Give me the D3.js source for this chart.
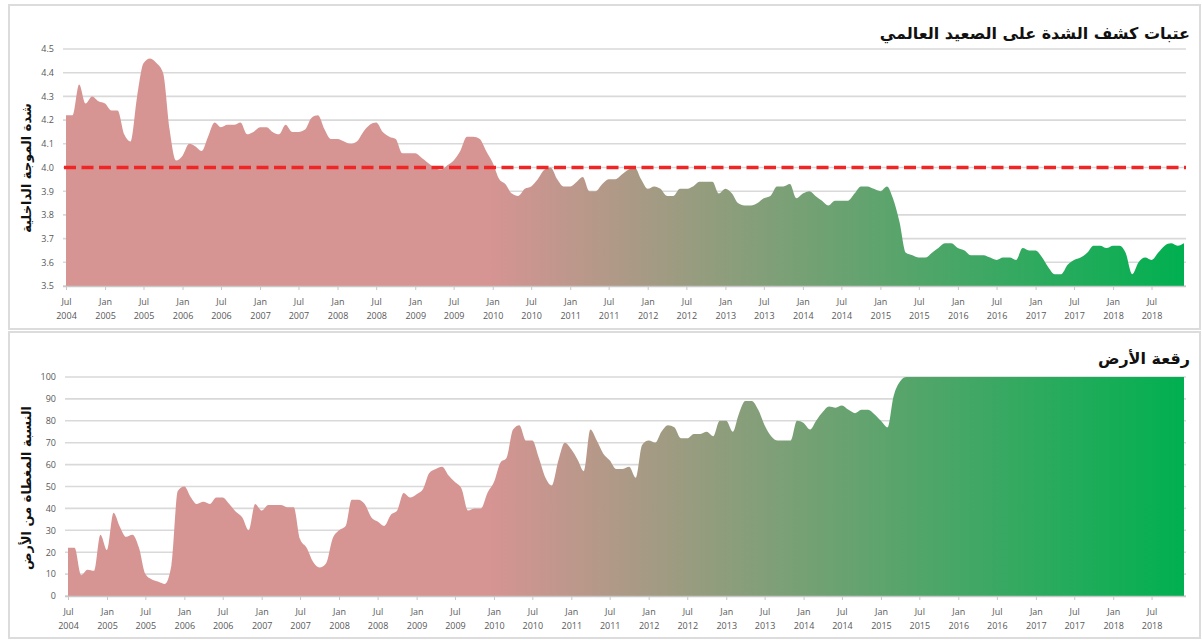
<!DOCTYPE html>
<html>
<head>
<meta charset="utf-8">
<script src="https://cdn.jsdelivr.net/npm/d3@7"></script>
<style>
  html, body { margin: 0; padding: 0; background: #fff; }
  svg { display: block; }
  .tick text { font-family: "Open Sans", "Liberation Sans", sans-serif; fill: #595959; }
  .ar { font-family: "DejaVu Sans", sans-serif; font-weight: bold; fill: #111; }
</style>
</head>
<body>
<svg id="chart" width="1202" height="640"></svg>
<script>
// monthly values, Jul 2004 .. Dec 2018
const startMonth = '2004-07';

const waveIntensity = [
  4.22, 4.22, 4.35, 4.27, 4.30, 4.28, 4.27, 4.24, 4.24, 4.14, 4.11, 4.30,
  4.44, 4.46, 4.44, 4.40, 4.16, 4.03, 4.05, 4.10, 4.09, 4.07, 4.13, 4.19,
  4.17, 4.18, 4.18, 4.19, 4.14, 4.15, 4.17, 4.17, 4.15, 4.14, 4.18, 4.15,
  4.15, 4.16, 4.21, 4.22, 4.16, 4.12, 4.12, 4.11, 4.10, 4.11, 4.15, 4.18,
  4.19, 4.15, 4.13, 4.12, 4.06, 4.06, 4.06, 4.04, 4.02, 4.00, 3.99, 4.01,
  4.03, 4.07, 4.13, 4.13, 4.12, 4.07, 4.02, 3.95, 3.93, 3.89, 3.88, 3.91,
  3.92, 3.95, 3.99, 4.00, 3.95, 3.92, 3.92, 3.94, 3.96, 3.90, 3.90, 3.93,
  3.95, 3.95, 3.97, 3.99, 4.00, 3.95, 3.91, 3.92, 3.91, 3.88, 3.88, 3.91,
  3.91, 3.92, 3.94, 3.94, 3.94, 3.89, 3.91, 3.89, 3.85, 3.84, 3.84, 3.85,
  3.87, 3.88, 3.92, 3.92, 3.93, 3.87, 3.89, 3.90, 3.88, 3.86, 3.84, 3.86,
  3.86, 3.86, 3.89, 3.92, 3.92, 3.91, 3.90, 3.92, 3.87, 3.77, 3.64, 3.63,
  3.62, 3.62, 3.64, 3.66, 3.68, 3.68, 3.66, 3.65, 3.63, 3.63, 3.63, 3.62,
  3.61, 3.62, 3.62, 3.61, 3.66, 3.65, 3.65, 3.62, 3.58, 3.55, 3.55, 3.59,
  3.61, 3.62, 3.64, 3.67, 3.67, 3.66, 3.67, 3.67, 3.64, 3.55, 3.60, 3.62,
  3.61, 3.64, 3.67, 3.68, 3.67, 3.68
];

const landCoverage = [
  22, 22, 9.5, 12, 11.5, 28, 21, 38, 32, 27, 28, 22,
  10, 7.5, 6.5, 5.5, 14, 48, 50, 45, 42, 43, 42, 45,
  45, 42, 38.5, 36, 30, 42, 39, 41.5, 41.5, 41.5, 40.5, 40.5,
  26, 22, 15.5, 13, 15, 26, 30, 32, 44, 44, 42, 36,
  34, 32, 37, 39, 47, 45, 46.5, 49, 56, 58, 59, 55,
  52, 49, 39, 40, 40, 47, 52, 61, 63, 76, 78, 71,
  71, 63, 54, 50.5, 62, 70, 67, 62, 57, 76, 71, 65,
  62, 58, 58, 59, 54, 69, 71, 70, 75, 78, 77, 72,
  72, 74, 74, 75, 73, 80, 80, 75, 83, 89, 89, 85,
  78, 73, 71, 71, 71, 80, 79, 76, 80, 84, 86.5, 86,
  87, 85, 83.5, 85, 85, 83, 80, 77, 91, 98, 100, 100,
  100, 100, 100, 100, 100, 100, 100, 100, 100, 100, 100, 100,
  100, 100, 100, 100, 100, 100, 100, 100, 100, 100, 100, 100,
  100, 100, 100, 100, 100, 100, 100, 100, 100, 100, 100, 100,
  100, 100, 100, 100, 100, 100
];

const tickLabels = [
  'Jul 2004', 'Jan 2005', 'Jul 2005', 'Jan 2006', 'Jul 2006', 'Jan 2007', 'Jul 2007',
  'Jan 2008', 'Jul 2008', 'Jan 2009', 'Jul 2009', 'Jan 2010', 'Jul 2010', 'Jan 2011',
  'Jul 2011', 'Jan 2012', 'Jul 2012', 'Jan 2013', 'Jul 2013', 'Jan 2014', 'Jul 2014',
  'Jan 2015', 'Jul 2015', 'Jan 2016', 'Jul 2016', 'Jan 2017', 'Jul 2017', 'Jan 2018',
  'Jul 2018'
];

const intensityTicks = [3.5, 3.6, 3.7, 3.8, 3.9, 4.0, 4.1, 4.2, 4.3, 4.4, 4.5];
const coverageTicks = [0, 10, 20, 30, 40, 50, 60, 70, 80, 90, 100];
const threshold = 4.0;

const topTitle = 'عتبات كشف الشدة على الصعيد العالمي';
const topYLabel = 'شدة الموجة الداخلية';
const bottomTitle = 'رقعة الأرض';
const bottomYLabel = 'النسبة المغطاة من الأرض';

const svg = d3.select('#chart');
const firstMonth = d3.timeParse('%Y-%m')(startMonth);
const parseTick = d3.timeParse('%b %Y');

const defs = svg.append('defs');
const grad = defs.append('linearGradient')
  .attr('id', 'fade')
  .attr('gradientUnits', 'userSpaceOnUse')
  .attr('x1', 64).attr('x2', 1185).attr('y1', 0).attr('y2', 0);
grad.append('stop').attr('offset', '0%').attr('stop-color', '#d69493');
grad.append('stop').attr('offset', '38%').attr('stop-color', '#d69493');
grad.append('stop').attr('offset', '100%').attr('stop-color', '#00b050');

function drawPanel(opts) {
  const { top, bottom, x0, x1, values, domain, ticks, fmt, title, titleY, yLabel, labelY } = opts;

  svg.append('rect')
    .attr('x', 9).attr('y', opts.boxTop)
    .attr('width', 1191).attr('height', opts.boxHeight)
    .attr('fill', 'none')
    .attr('stroke', '#dcdcdc')
    .attr('stroke-width', 2);

  const dates = values.map((v, i) => d3.timeMonth.offset(firstMonth, i));
  const x = d3.scaleTime()
    .domain([dates[0], dates[dates.length - 1]])
    .range([x0, x1]);
  const y = d3.scaleLinear().domain(domain).range([bottom, top]);

  // gridlines
  svg.append('g')
    .selectAll('line')
    .data(ticks)
    .join('line')
    .attr('x1', x0 - 3)
    .attr('x2', x1 + 2)
    .attr('y1', d => y(d))
    .attr('y2', d => y(d))
    .attr('stroke', '#d9d9d9')
    .attr('stroke-width', 1.6);

  const area = d3.area()
    .x((d, i) => x(dates[i]))
    .y0(y(domain[0]))
    .y1(d => y(d))
    .curve(d3.curveMonotoneX);

  svg.append('path')
    .datum(values)
    .attr('d', area)
    .attr('fill', 'url(#fade)');

  if (opts.threshold !== undefined) {
    svg.append('line')
      .attr('x1', x0 - 2)
      .attr('x2', x1 + 2)
      .attr('y1', y(opts.threshold))
      .attr('y2', y(opts.threshold))
      .attr('stroke', '#f02626')
      .attr('stroke-width', 3.5)
      .attr('stroke-dasharray', '12,5.5');
  }

  // y axis labels
  const yAxis = svg.append('g')
    .attr('transform', `translate(${x0 - 9},0)`)
    .call(d3.axisLeft(y).tickValues(ticks).tickFormat(fmt).tickSize(0));
  yAxis.select('.domain').remove();
  yAxis.selectAll('text').attr('font-size', 9);

  // x axis
  const xAxis = svg.append('g')
    .attr('transform', `translate(0,${bottom})`)
    .call(d3.axisBottom(x)
      .tickValues(tickLabels.map(parseTick))
      .tickSize(4)
      .tickFormat(''));
  xAxis.select('.domain').attr('stroke', '#c8c8c8').attr('stroke-width', 1.5)
    .attr('d', `M${x0 - 3},0.5H${x1 + 2}`);
  xAxis.selectAll('.tick line').attr('stroke', '#c8c8c8');
  xAxis.selectAll('.tick').each(function (d, i) {
    const parts = tickLabels[i].split(' ');
    const t = d3.select(this).append('text')
      .attr('fill', '#595959')
      .attr('font-size', 9)
      .attr('text-anchor', 'middle');
    t.append('tspan').attr('x', 0).attr('y', 19).text(parts[0]);
    t.append('tspan').attr('x', 0).attr('y', 33).text(parts[1]);
  });

  svg.append('text')
    .attr('class', 'ar')
    .attr('x', 1190)
    .attr('y', titleY)
    .attr('text-anchor', 'end')
    .attr('font-size', opts.titleSize)
    .text(title);

  svg.append('text')
    .attr('class', 'ar')
    .attr('transform', `translate(31,${labelY}) rotate(-90)`)
    .attr('text-anchor', 'middle')
    .attr('font-size', 13)
    .text(yLabel);
}

drawPanel({
  boxTop: 5, boxHeight: 324,
  top: 49, bottom: 286, x0: 66, x1: 1184,
  values: waveIntensity, domain: [3.5, 4.5], ticks: intensityTicks,
  fmt: d3.format('.1f'), threshold: threshold,
  title: topTitle, titleY: 39, titleSize: 16,
  yLabel: topYLabel, labelY: 168
});

drawPanel({
  boxTop: 332, boxHeight: 306,
  top: 377, bottom: 596, x0: 68, x1: 1184,
  values: landCoverage, domain: [0, 100], ticks: coverageTicks,
  fmt: d3.format('d'),
  title: bottomTitle, titleY: 364, titleSize: 16,
  yLabel: bottomYLabel, labelY: 488
});
</script>
</body>
</html>
